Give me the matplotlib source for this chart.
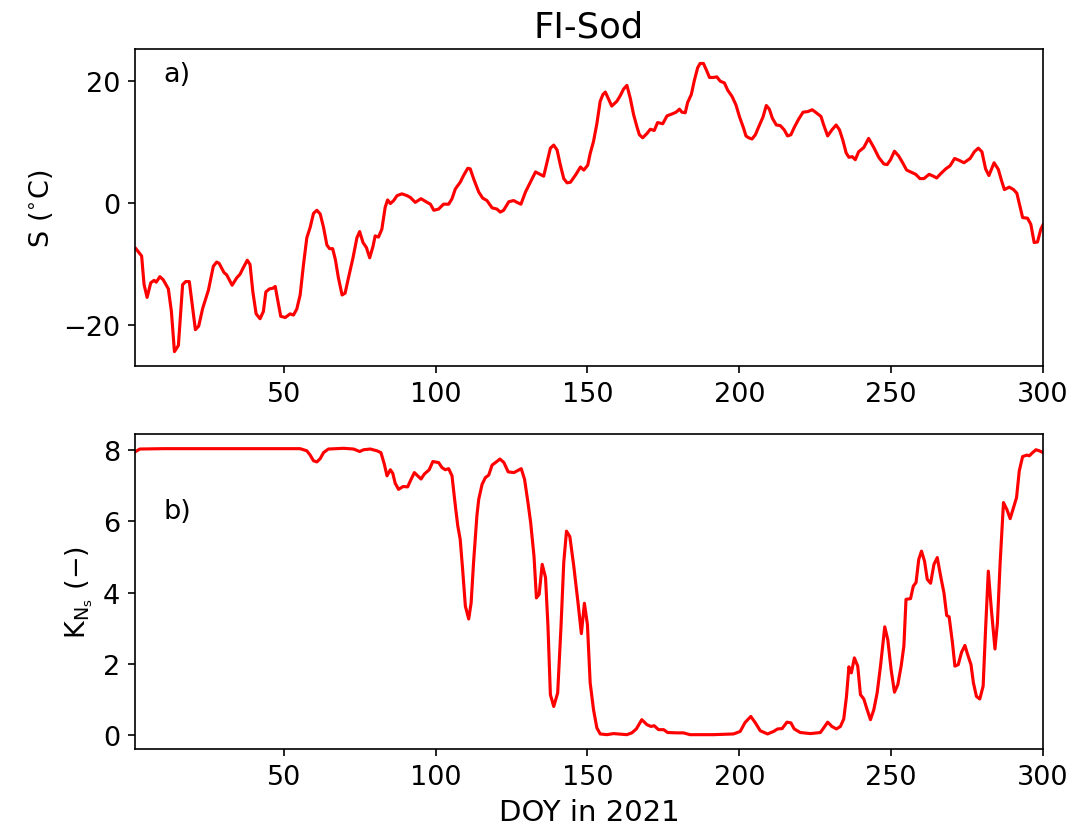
import numpy as np
import matplotlib
matplotlib.use('Agg')
import matplotlib.pyplot as plt

# Panel a) surface temperature S
doy_s = [1.3, 3.2, 4, 5, 6.2, 7.3, 8, 9.2, 10.3, 12, 13, 14, 15.3, 16.7, 17.7, 18.9, 20.9, 22,
         23.3, 25.2, 26.8, 27.9, 28.7, 30.3, 31.2, 33, 34.5, 35.6, 36.7, 38, 38.9, 39.8, 40.9,
         42.2, 43.3, 44.1, 45.3, 46.4, 47.2, 47.7, 49, 50.5, 52.1, 53.2, 54.3, 55.4, 56.5, 57.6,
         58.7, 59.8, 60.9, 62, 63.1, 64.2, 65.1, 66.1, 67, 68, 69.2, 70.2, 71.3, 72.8, 74.1, 75,
         76.1, 77.2, 78.3, 79.4, 80.1, 81.2, 82.3, 83.4, 84.2, 85.1, 86.2, 87.3, 88.9, 90.6,
         91.7, 93.3, 95.2, 97.2, 98.3, 99.4, 101, 102.6, 104.3, 105.4, 106.5, 108.1, 109.2,
         110.6, 111.4, 112.5, 114.2, 115.5, 116.9, 118.6, 120.2, 121.3, 122.4, 124.1, 125.7,
         126.8, 128.1, 129.6, 131.2, 132.9, 134, 135.6, 136.7, 137.8, 138.9, 140, 141.1, 142.2,
         143.3, 144.4, 146.1, 147.7, 148.8, 150.1, 150.9, 152, 153.1, 154.2, 155.1, 155.9,
         156.9, 158, 159.7, 160.8, 161.9, 163, 164.1, 165.2, 166.3, 167.1, 168.2, 169.6, 170.7,
         172, 173.1, 174.8, 176.2, 177.8, 179.2, 180.3, 181.1, 182.2, 183, 184.2, 185.2, 186.3,
         187.1, 188.2, 189.1, 190.2, 191.5, 192.6, 193.7, 195.1, 196.2, 197.6, 198.9, 200.1,
         201.4, 202.2, 203.1, 204.2, 205.3, 206.4, 207.8, 208.9, 209.9, 210.9, 212.2, 213.5,
         214.8, 215.9, 217, 218.1, 219.6, 221, 222.6, 224, 225.1, 226.9, 227.8, 229.1, 230.5,
         231.9, 233, 234.1, 235.2, 236.1, 237.2, 238.2, 239.3, 241, 242.6, 244.3, 245.9, 247.6,
         248.7, 249.8, 251.1, 252.5, 253.8, 255.1, 256.4, 258.1, 259.5, 260.8, 262.5, 263.9,
         265, 266.3, 268, 269.4, 270.9, 272.4, 274, 276, 277.4, 278.7, 279.9, 281.1, 282.2,
         283.9, 285.3, 286.4, 287.3, 288.9, 290.3, 291.4, 292.5, 293.3, 294.9, 296, 297.1,
         298.2, 299.3, 300]
s_temp = [-7.5, -8.7, -13.4, -15.5, -13.1, -12.7, -13, -12.1, -12.6, -14.1, -17.8, -24.4,
          -23.4, -13.4, -12.9, -12.9, -20.8, -20.2, -17.3, -14.3, -10.4, -9.7, -9.9, -11.4,
          -11.8, -13.5, -12.3, -11.7, -10.6, -9.4, -10.1, -14.5, -18.2, -19, -17.8, -14.6,
          -14.1, -14, -13.7, -15.1, -18.6, -18.8, -18.2, -18.4, -17.4, -15.1, -10.1, -5.7, -4,
          -1.7, -1.2, -1.8, -4, -6.9, -7.5, -7.5, -9.3, -12.3, -15.1, -14.8, -12.3, -9, -5.7,
          -4.7, -6.5, -7.3, -9, -7.1, -5.4, -5.6, -4.3, -0.7, 0.5, -0.1, 0.4, 1.2, 1.5, 1.2,
          0.9, 0.1, 0.7, 0.1, -0.2, -1.2, -1, -0.2, -0.2, 0.7, 2.3, 3.4, 4.5, 5.7, 5.6, 4, 1.8,
          0.8, 0.4, -0.8, -1, -1.5, -1.2, 0.2, 0.4, 0.1, -0.2, 1.8, 3.4, 5.1, 4.8, 4.4, 6.7, 9,
          9.5, 8.7, 6.2, 4, 3.3, 3.4, 4.6, 5.9, 5.4, 6.2, 8.1, 10.1, 13, 16.7, 17.8, 18.2, 17.1,
          15.9, 16.7, 17.6, 18.7, 19.3, 17.2, 14.5, 12.5, 11.2, 10.7, 11.4, 12.1, 11.9, 13.2,
          13, 14.3, 14.6, 14.9, 15.4, 14.9, 14.8, 16.5, 17.8, 20.1, 22.2, 22.9, 22.9, 21.9,
          20.6, 20.6, 20.7, 20, 19.7, 18.5, 17.5, 16.1, 14.1, 12.3, 11, 10.7, 10.5, 11.2, 12.5,
          14.1, 16, 15.4, 13.9, 12.8, 12.7, 12, 11, 11.2, 12.4, 13.8, 14.9, 15, 15.3, 14.9, 14.2,
          12.8, 11, 12, 12.8, 12, 10.3, 8.2, 7.5, 7.6, 7.1, 8.4, 9.1, 10.6, 9.1, 7.5, 6.4, 6.3,
          7.1, 8.5, 7.7, 6.6, 5.4, 5.1, 4.7, 4, 4, 4.7, 4.4, 4.1, 4.8, 5.6, 6.1, 7.3, 7, 6.6,
          7.3, 8.4, 9, 8.4, 5.6, 4.5, 6.6, 5.5, 3.6, 2.2, 2.6, 2.2, 1.6, -0.7, -2.4, -2.5, -3.5,
          -6.5, -6.4, -4.3, -3.6]

# Panel b) K_Ns
doy_k = [1, 2.6, 10.3, 43.3, 55.4, 57.6, 58.7, 59.8, 60.9, 62, 63.1, 64.7, 69.7, 73, 75, 76.3,
         78.5, 80.7, 82, 83.1, 84, 85.1, 85.9, 86.7, 87.8, 89.3, 90.8, 91.7, 93, 94.1, 95.2,
         96.3, 97.9, 99.1, 101, 102.1, 103.2, 104.3, 105.4, 106.5, 107.3, 108.1, 108.9, 109.8,
         110.9, 111.7, 112.5, 113.6, 114.2, 115.3, 116.4, 117.5, 118.6, 119.7, 121.2, 122.5,
         123.9, 125.8, 126.9, 128.2, 129.3, 130.5, 131.3, 132.4, 133.2, 134.1, 135.1, 136.2,
         137, 137.8, 138.9, 140.2, 141.3, 142.2, 143.1, 144.2, 145.5, 146.9, 148, 149, 150,
         150.9, 152, 153.1, 154.2, 156.4, 158.6, 163, 164.6, 166.1, 167.9, 169.6, 170.9, 172,
         173.4, 175.1, 176.4, 179.5, 181.6, 183.8, 191.5, 198.1, 200.3, 201.9, 203.8, 205.3,
         206.9, 209.3, 211.3, 212.6, 214.1, 215.7, 217, 218.1, 220.1, 223.4, 226.7, 227.8,
         229.1, 230.5, 232, 233.3, 234.4, 235.3, 236.1, 236.9, 237.9, 239, 239.9, 241, 242.1,
         243.2, 244.3, 245.4, 246.5, 247.9, 248.9, 250, 251.1, 252.2, 253.3, 254.2, 254.9,
         256.4, 257.3, 258.2, 259.1, 260, 261, 261.9, 263, 264.1, 265.2, 266.3, 267.4, 268.3,
         269.1, 270.2, 271, 272.1, 273.2, 274.3, 275.1, 276.3, 277.1, 278.1, 279.2, 280.3,
         281.1, 282, 283, 284.2, 285, 285.9, 287, 288.1, 289.2, 290.3, 291.3, 292.2, 293.3,
         294.7, 295.5, 296.6, 297.7, 298.8, 300]
k_ns = [7.94, 8.02, 8.03, 8.03, 8.03, 7.97, 7.85, 7.69, 7.66, 7.75, 7.92, 8.02, 8.04, 8.02,
        7.95, 8, 8.02, 7.97, 7.92, 7.6, 7.27, 7.44, 7.34, 7.06, 6.89, 6.97, 6.96, 7.13, 7.36,
        7.27, 7.18, 7.32, 7.44, 7.67, 7.64, 7.5, 7.44, 7.47, 7.27, 6.43, 5.87, 5.49, 4.65, 3.62,
        3.26, 3.71, 4.84, 6.15, 6.61, 7.03, 7.22, 7.29, 7.57, 7.64, 7.74, 7.64, 7.38, 7.36,
        7.41, 7.47, 7.17, 6.47, 5.96, 5.02, 3.85, 3.95, 4.79, 4.42, 3.06, 1.14, 0.81, 1.19,
        3.06, 4.84, 5.72, 5.57, 4.74, 3.71, 2.85, 3.7, 3.1, 1.47, 0.72, 0.21, 0.04, 0.02, 0.05,
        0.02, 0.07, 0.18, 0.44, 0.3, 0.25, 0.27, 0.16, 0.16, 0.08, 0.07, 0.07, 0.02, 0.02,
        0.04, 0.11, 0.36, 0.53, 0.35, 0.13, 0.04, 0.11, 0.18, 0.19, 0.37, 0.35, 0.18, 0.08,
        0.05, 0.08, 0.21, 0.37, 0.25, 0.18, 0.25, 0.46, 1.09, 1.92, 1.75, 2.17, 1.94, 1.14,
        1.02, 0.72, 0.44, 0.72, 1.19, 1.94, 3.04, 2.68, 1.84, 1.21, 1.42, 1.94, 2.5, 3.81, 3.83,
        4.18, 4.28, 4.93, 5.16, 4.88, 4.37, 4.26, 4.79, 4.98, 4.46, 3.99, 3.36, 3.32, 2.59,
        1.94, 1.98, 2.33, 2.52, 2.29, 1.98, 1.47, 1.09, 1.02, 1.38, 2.97, 4.6, 3.53, 2.42, 3.15,
        4.84, 6.52, 6.33, 6.07, 6.38, 6.66, 7.41, 7.81, 7.85, 7.83, 7.92, 8, 7.97, 7.92]

fig = plt.figure(figsize=(7.18, 5.573), dpi=150)
ax1 = fig.add_axes([0.1253, 0.561, 0.8431, 0.3792])
ax2 = fig.add_axes([0.1253, 0.1029, 0.8431, 0.3768])

ax1.plot(doy_s, s_temp, color='red', lw=1.5)
ax1.set_xlim(1, 300)
ax1.set_ylabel(r'$\mathrm{S\ (^{\circ}C)}$', fontsize=13)
ax1.set_title('FI-Sod', fontsize=17)
ax1.text(0.031, 0.92, 'a)', transform=ax1.transAxes, fontsize=13, va='center')

ax2.plot(doy_k, k_ns, color='red', lw=1.5)
ax2.set_xlim(1, 300)
ax2.set_ylabel(r'$\mathrm{K_{N_s}\ (-)}$', fontsize=13)
ax2.set_xlabel('DOY in 2021', fontsize=14)
ax2.text(0.031, 0.755, 'b)', transform=ax2.transAxes, fontsize=13, va='center')

for ax in (ax1, ax2):
    ax.tick_params(labelsize=13)

fig.savefig('out.png', dpi=150)
